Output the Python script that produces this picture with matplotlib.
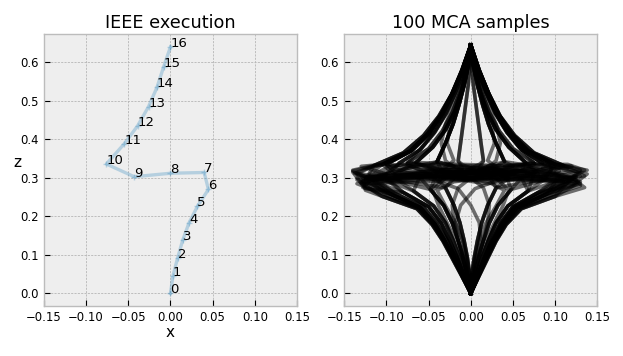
import matplotlib
matplotlib.use("Agg")
import matplotlib.pyplot as plt

# IEEE execution: one path of 17 points
ieee_x = [0.000, 0.003, 0.0085, 0.0145, 0.022, 0.032, 0.045, 0.040, 0.000,
          -0.043, -0.076, -0.055, -0.039, -0.026, -0.016, -0.008, 0.000]
ieee_z = [0.000, 0.046, 0.092, 0.138, 0.183, 0.226, 0.270, 0.314, 0.312,
          0.303, 0.336, 0.388, 0.435, 0.485, 0.535, 0.589, 0.640]
ieee_labels = [str(i) for i in range(len(ieee_x))]

mca_x = [
    [0, .009, .018, .028, .039, .055, .090, .128, .010, -.120, -.105, -.072, -.051, -.035, -.022, -.010, 0],
    [0, -.010, -.020, -.031, -.043, -.060, -.095, -.135, -.020, .115, .100, .068, .048, .033, .021, .010, 0],
    [0, .008, .016, .025, .035, .050, .080, .120, .138, .110, .085, .060, .043, .029, .018, .008, 0],
    [0, -.008, -.016, -.025, -.035, -.050, -.080, -.125, -.140, -.105, -.085, -.060, -.043, -.029, -.018, -.008, 0],
    [0, .009, .018, .028, .039, .055, .090, .105, .030, -.060, -.085, -.060, -.043, -.029, -.018, -.008, 0],
    [0, -.010, -.020, -.031, -.043, -.060, -.095, -.128, -.118, -.140, -.105, -.072, -.051, -.035, -.022, -.010, 0],
    [0, .006, .013, .021, .030, .044, .068, .075, .020, -.040, -.065, -.045, -.030, -.019, -.011, -.005, 0],
    [0, -.006, -.013, -.021, -.030, -.044, -.068, -.060, -.010, .045, .065, .045, .030, .019, .011, .005, 0],
    [0, .010, .020, .030, .042, .060, .100, .135, .120, .130, .110, .075, .052, .035, .022, .010, 0],
    [0, -.011, -.022, -.033, -.046, -.064, -.105, -.130, -.040, .080, .110, .075, .052, .035, .022, .010, 0],
    [0, .010, .020, .030, .042, .060, .100, .120, .000, -.125, -.115, -.080, -.056, -.038, -.023, -.011, 0],
    [0, -.011, -.022, -.033, -.046, -.064, -.105, -.125, -.128, -.140, -.115, -.080, -.056, -.038, -.023, -.011, 0],
    [0, .008, .016, .025, .035, .050, .080, .110, .085, .120, .100, .068, .048, .033, .021, .010, 0],
    [0, -.008, -.016, -.025, -.035, -.050, -.080, -.100, -.020, .060, .085, .060, .043, .029, .018, .008, 0],
    [0, .004, .009, .015, .022, .032, .048, .080, .105, .090, .085, .060, .043, .029, .018, .008, 0],
    [0, -.004, -.009, -.015, -.022, -.032, -.048, -.085, -.110, -.090, -.085, -.060, -.043, -.029, -.018, -.008, 0],
    [0, .004, .009, .015, .022, .032, .048, .040, .000, -.043, -.076, -.055, -.039, -.026, -.016, -.008, 0],
    [0, -.004, -.009, -.015, -.022, -.032, -.048, -.040, .000, .043, .076, .055, .039, .026, .016, .008, 0],
    [0, .001, .004, .008, .013, .020, .030, .045, .010, -.020, -.040, -.030, -.021, -.014, -.008, -.003, 0],
    [0, -.001, -.004, -.008, -.013, -.020, -.030, -.040, .010, .030, .040, .030, .021, .014, .008, .003, 0],
    [0, .001, .004, .008, .013, .020, .030, .020, -.005, .010, .015, .012, .009, .006, .003, .001, 0],
    [0, -.001, -.004, -.008, -.013, -.020, -.030, -.018, .004, -.010, -.015, -.012, -.009, -.006, -.003, -.001, 0],
    [0, .006, .013, .021, .030, .044, .068, .100, .130, .100, .065, .045, .030, .019, .011, .005, 0],
    [0, -.006, -.013, -.021, -.030, -.044, -.068, -.090, -.125, -.095, -.065, -.045, -.030, -.019, -.011, -.005, 0],
    [0, .009, .018, .028, .039, .055, .090, .125, .085, .060, .040, .030, .021, .014, .008, .003, 0],
    [0, -.010, -.020, -.031, -.043, -.060, -.095, -.120, -.080, -.055, -.040, -.030, -.021, -.014, -.008, -.003, 0],
    [0, .008, .016, .025, .035, .050, .080, .110, .030, -.085, -.105, -.072, -.051, -.035, -.022, -.010, 0],
    [0, -.008, -.016, -.025, -.035, -.050, -.080, -.115, -.020, .090, .100, .068, .048, .033, .021, .010, 0],
    [0, .010, .020, .030, .042, .060, .100, .130, .100, .138, .100, .068, .048, .033, .021, .010, 0],
    [0, -.011, -.022, -.033, -.046, -.064, -.105, -.135, -.100, -.130, -.105, -.072, -.051, -.035, -.022, -.010, 0],
    [0, .006, .013, .021, .030, .044, .068, .060, .020, -.030, -.040, -.030, -.021, -.014, -.008, -.003, 0],
    [0, -.004, -.009, -.015, -.022, -.032, -.048, -.030, .030, .060, .065, .045, .030, .019, .011, .005, 0],
    [0, .002, .006, .012, .010, .000, -.015, -.050, -.090, -.070, -.065, -.045, -.030, -.019, -.011, -.005, 0],
    [0, -.002, -.005, -.010, -.018, -.012, .005, .040, .080, .070, .065, .045, .030, .019, .011, .005, 0],
    [0, .009, .018, .028, .039, .055, .090, .130, .060, -.010, -.065, -.045, -.030, -.019, -.011, -.005, 0],
    [0, -.010, -.020, -.031, -.043, -.060, -.095, -.130, -.060, .020, .085, .060, .043, .029, .018, .008, 0],
    [0, .0085, .017, .026, .037, .052, .085, .125, .050, -.070, -.100, -.070, -.049, -.034, -.021, -.010, 0],
    [0, -.009, -.018, -.028, -.040, -.056, -.090, -.128, -.050, .070, .095, .065, .046, .031, .020, .009, 0],
    [0, .0095, .019, .029, .041, .058, .095, .130, .090, .020, -.100, -.070, -.049, -.034, -.021, -.010, 0],
    [0, -.0105, -.021, -.032, -.045, -.062, -.100, -.135, -.090, -.020, .095, .065, .046, .031, .020, .009, 0],
    [0, .0085, .017, .026, .037, .052, .085, .120, .135, .115, .100, .068, .048, .033, .021, .010, 0],
    [0, -.009, -.018, -.028, -.040, -.056, -.090, -.120, -.138, -.118, -.100, -.070, -.049, -.034, -.021, -.010, 0],
    [0, .008, .016, .025, .035, .050, .080, .100, .000, -.090, -.100, -.070, -.049, -.034, -.021, -.010, 0],
    [0, -.008, -.016, -.025, -.035, -.050, -.080, -.100, .000, .095, .095, .065, .046, .031, .020, .009, 0],
    [0, .0095, .019, .029, .041, .058, .095, .125, .020, -.050, -.075, -.050, -.034, -.022, -.013, -.0055, 0],
    [0, -.0105, -.021, -.032, -.045, -.062, -.100, -.125, -.020, .050, .075, .050, .034, .022, .013, .0055, 0],
    [0, .006, .013, .021, .030, .044, .068, .090, .040, .060, .075, .050, .034, .022, .013, .0055, 0],
    [0, -.006, -.013, -.021, -.030, -.044, -.068, -.090, -.040, -.060, -.075, -.050, -.034, -.022, -.013, -.0055, 0],
    [0, .0085, .017, .026, .037, .052, .085, .110, .060, .020, .040, .030, .021, .014, .008, .003, 0],
    [0, -.009, -.018, -.028, -.040, -.056, -.090, -.110, -.060, -.020, -.040, -.030, -.021, -.014, -.008, -.003, 0],
    [0, .009, .018, .028, .039, .055, .090, .120, .080, .010, .015, .012, .009, .006, .003, .001, 0],
    [0, -.010, -.020, -.031, -.043, -.060, -.095, -.120, -.080, -.010, -.015, -.012, -.009, -.006, -.003, -.001, 0],
    [0, .004, .009, .015, .022, .032, .048, .060, .080, .100, .095, .065, .046, .031, .020, .009, 0],
    [0, -.004, -.009, -.015, -.022, -.032, -.048, -.060, -.085, -.100, -.100, -.070, -.049, -.034, -.021, -.010, 0],
    [0, .001, .004, .008, .013, .020, .030, .070, .110, .135, .110, .075, .052, .035, .022, .010, 0],
    [0, -.001, -.004, -.008, -.013, -.020, -.030, -.070, -.110, -.135, -.115, -.080, -.056, -.038, -.023, -.011, 0],
    [0, .003, .008, .015, .020, .022, .015, .000, -.030, -.050, -.040, -.030, -.021, -.014, -.008, -.003, 0],
    [0, -.003, -.008, -.015, -.020, -.022, -.015, .000, .030, .050, .040, .030, .021, .014, .008, .003, 0],
    [0, .004, .010, .018, .028, .038, .045, .030, .010, .025, .030, .035, .030, .020, .011, .004, 0],
    [0, -.004, -.010, -.018, -.028, -.038, -.045, -.030, -.010, -.025, -.030, -.035, -.030, -.020, -.011, -.004, 0],
    [0, .002, .005, .010, .018, .030, .040, .020, -.020, -.035, -.020, -.028, -.025, -.015, -.008, -.003, 0],
    [0, -.002, -.005, -.010, -.018, -.030, -.040, -.020, .020, .035, .020, .028, .025, .015, .008, .003, 0],
]
mca_z = [
    [0, .046, .092, .137, .181, .223, .258, .290, .300, .310, .335, .370, .415, .465, .520, .580, .645],
    [0, .046, .092, .137, .181, .223, .258, .300, .315, .325, .335, .370, .415, .465, .520, .580, .645],
    [0, .046, .092, .137, .182, .225, .262, .280, .310, .325, .338, .373, .418, .468, .522, .582, .645],
    [0, .046, .092, .137, .182, .225, .262, .272, .315, .300, .338, .373, .418, .468, .522, .582, .645],
    [0, .046, .092, .137, .181, .223, .258, .305, .320, .322, .338, .373, .418, .468, .522, .582, .645],
    [0, .046, .092, .137, .181, .223, .258, .275, .295, .318, .335, .370, .415, .465, .520, .580, .645],
    [0, .046, .092, .138, .183, .227, .266, .310, .318, .315, .340, .380, .425, .473, .525, .584, .645],
    [0, .046, .092, .138, .183, .227, .266, .305, .300, .310, .340, .380, .425, .473, .525, .584, .645],
    [0, .046, .091, .136, .179, .220, .252, .275, .300, .320, .332, .365, .410, .460, .516, .578, .645],
    [0, .046, .091, .136, .179, .220, .252, .285, .292, .300, .332, .365, .410, .460, .516, .578, .645],
    [0, .046, .091, .136, .179, .220, .252, .300, .310, .295, .332, .365, .410, .460, .516, .578, .645],
    [0, .046, .091, .136, .179, .220, .252, .268, .300, .320, .332, .365, .410, .460, .516, .578, .645],
    [0, .046, .092, .137, .182, .225, .262, .300, .325, .330, .335, .370, .415, .465, .520, .580, .645],
    [0, .046, .092, .137, .182, .225, .262, .295, .305, .318, .338, .373, .418, .468, .522, .582, .645],
    [0, .046, .092, .138, .183, .228, .270, .290, .318, .330, .338, .373, .418, .468, .522, .582, .645],
    [0, .046, .092, .138, .183, .228, .270, .290, .305, .325, .338, .373, .418, .468, .522, .582, .645],
    [0, .046, .092, .138, .183, .228, .270, .315, .312, .303, .336, .388, .435, .485, .535, .589, .642],
    [0, .046, .092, .138, .183, .228, .270, .314, .312, .303, .336, .388, .435, .485, .535, .589, .642],
    [0, .046, .092, .138, .184, .229, .274, .300, .325, .330, .342, .390, .440, .490, .540, .592, .645],
    [0, .046, .092, .138, .184, .229, .274, .296, .318, .330, .342, .390, .440, .490, .540, .592, .645],
    [0, .046, .092, .138, .184, .229, .274, .310, .320, .335, .344, .392, .442, .492, .542, .594, .645],
    [0, .046, .092, .138, .184, .229, .274, .305, .322, .334, .344, .392, .442, .492, .542, .594, .645],
    [0, .046, .092, .138, .183, .227, .266, .290, .305, .330, .340, .380, .425, .473, .525, .584, .645],
    [0, .046, .092, .138, .183, .227, .266, .285, .300, .330, .340, .380, .425, .473, .525, .584, .645],
    [0, .046, .092, .137, .181, .223, .258, .300, .320, .335, .342, .390, .440, .490, .540, .592, .645],
    [0, .046, .092, .137, .181, .223, .258, .300, .322, .335, .342, .390, .440, .490, .540, .592, .645],
    [0, .046, .092, .137, .182, .225, .262, .290, .295, .300, .335, .370, .415, .465, .520, .580, .645],
    [0, .046, .092, .137, .182, .225, .262, .290, .298, .305, .335, .370, .415, .465, .520, .580, .645],
    [0, .046, .091, .136, .179, .220, .252, .290, .312, .320, .335, .370, .415, .465, .520, .580, .645],
    [0, .046, .091, .136, .179, .220, .252, .295, .310, .330, .335, .370, .415, .465, .520, .580, .645],
    [0, .046, .092, .138, .183, .227, .266, .300, .285, .300, .342, .390, .440, .490, .540, .592, .645],
    [0, .046, .092, .138, .183, .228, .270, .310, .300, .320, .340, .380, .425, .473, .525, .584, .645],
    [0, .046, .092, .138, .184, .229, .272, .300, .310, .335, .340, .380, .425, .473, .525, .584, .645],
    [0, .046, .092, .138, .184, .229, .272, .300, .310, .330, .340, .380, .425, .473, .525, .584, .645],
    [0, .046, .092, .137, .181, .223, .258, .285, .330, .335, .340, .380, .425, .473, .525, .584, .645],
    [0, .046, .092, .137, .181, .223, .258, .290, .335, .330, .338, .373, .418, .468, .522, .582, .645],
    [0, .046, .092, .137, .181, .224, .260, .295, .310, .318, .336, .371, .416, .466, .521, .581, .645],
    [0, .046, .092, .137, .181, .224, .260, .292, .308, .318, .336, .371, .416, .466, .521, .581, .645],
    [0, .046, .091, .136, .180, .221, .255, .280, .300, .312, .336, .371, .416, .466, .521, .581, .645],
    [0, .046, .091, .136, .180, .221, .255, .285, .305, .315, .336, .371, .416, .466, .521, .581, .645],
    [0, .046, .092, .137, .181, .224, .260, .300, .320, .335, .335, .370, .415, .465, .520, .580, .645],
    [0, .046, .092, .137, .181, .224, .260, .300, .312, .328, .336, .371, .416, .466, .521, .581, .645],
    [0, .046, .092, .137, .182, .225, .262, .295, .300, .315, .336, .371, .416, .466, .521, .581, .645],
    [0, .046, .092, .137, .182, .225, .262, .300, .305, .318, .336, .371, .416, .466, .521, .581, .645],
    [0, .046, .091, .136, .180, .221, .255, .305, .325, .330, .339, .376, .421, .470, .523, .583, .645],
    [0, .046, .091, .136, .180, .221, .255, .300, .320, .330, .339, .376, .421, .470, .523, .583, .645],
    [0, .046, .092, .138, .183, .227, .266, .300, .330, .335, .339, .376, .421, .470, .523, .583, .645],
    [0, .046, .092, .138, .183, .227, .266, .300, .325, .335, .339, .376, .421, .470, .523, .583, .645],
    [0, .046, .092, .137, .181, .224, .260, .290, .300, .330, .342, .390, .440, .490, .540, .592, .645],
    [0, .046, .092, .137, .181, .224, .260, .292, .302, .330, .342, .390, .440, .490, .540, .592, .645],
    [0, .046, .092, .137, .181, .223, .258, .300, .315, .325, .344, .392, .442, .492, .542, .594, .645],
    [0, .046, .092, .137, .181, .223, .258, .295, .312, .325, .344, .392, .442, .492, .542, .594, .645],
    [0, .046, .092, .138, .183, .228, .270, .300, .320, .330, .336, .371, .416, .466, .521, .581, .645],
    [0, .046, .092, .138, .183, .228, .270, .300, .320, .332, .336, .371, .416, .466, .521, .581, .645],
    [0, .046, .092, .138, .184, .229, .274, .290, .300, .305, .332, .365, .410, .460, .516, .578, .645],
    [0, .046, .092, .138, .184, .229, .274, .288, .298, .310, .332, .365, .410, .460, .516, .578, .645],
    [0, .046, .092, .138, .184, .229, .274, .300, .315, .330, .342, .390, .440, .490, .540, .592, .645],
    [0, .046, .092, .138, .184, .229, .274, .300, .315, .330, .342, .390, .440, .490, .540, .592, .645],
    [0, .046, .092, .138, .183, .227, .268, .300, .320, .335, .345, .390, .440, .490, .540, .590, .645],
    [0, .046, .092, .138, .183, .227, .268, .300, .320, .335, .345, .390, .440, .490, .540, .590, .645],
    [0, .046, .092, .138, .183, .227, .268, .290, .300, .320, .345, .390, .440, .490, .540, .590, .645],
    [0, .046, .092, .138, .183, .227, .268, .290, .300, .320, .345, .390, .440, .490, .540, .590, .645],
]

x_ticks = [-0.15, -0.10, -0.05, 0.00, 0.05, 0.10, 0.15]
z_ticks = [0.0, 0.1, 0.2, 0.3, 0.4, 0.5, 0.6]

plt.style.use('bmh')
plt.rcParams['font.family'] = ['DejaVu Sans']

fig = plt.figure(figsize=(6.23, 3.56), dpi=100)
ax1 = fig.add_axes([0.0706, 0.1413, 0.406, 0.7624])
ax2 = fig.add_axes([0.5527, 0.1413, 0.406, 0.7624])

# left: the single IEEE run
ax1.plot(ieee_x, ieee_z, color='#348ABD', alpha=0.3, lw=2.4,
         marker='+', ms=5, mew=1)
for x, z, s in zip(ieee_x, ieee_z, ieee_labels):
    ax1.text(x, z, s, fontsize=9.5, color='black')

# right: the MCA samples
for xs, zs in zip(mca_x, mca_z):
    ax2.plot(xs, zs, color='black', alpha=0.55, lw=2.6)

for ax in (ax1, ax2):
    ax.set_xlim(-0.15, 0.15)
    ax.set_ylim(-0.032, 0.673)
    ax.set_xticks(x_ticks)
    ax.set_yticks(z_ticks)
    ax.tick_params(direction='in', length=4, width=0.8, labelsize=8.4,
                   colors='black', pad=4)
    ax.grid(True, color='#b5b5b5', linestyle='--', linewidth=0.6,
            dashes=(2.5, 1.5))
    ax.set_facecolor('#eeeeee')
    for sp in ax.spines.values():
        sp.set_color('#bcbcbc')
        sp.set_linewidth(1.0)

ax1.set_title('IEEE execution', fontsize=12.7, pad=4.5)
ax2.set_title('100 MCA samples', fontsize=12.7, pad=4.5)
ax1.set_xlabel('x', fontsize=11)
ax1.xaxis.set_label_coords(0.5, -0.071)
ax1.set_ylabel('z', fontsize=11, rotation=0, ha='center', va='baseline')
ax1.yaxis.set_label_coords(-0.107, 0.511)

fig.savefig('out.png', dpi=100)
